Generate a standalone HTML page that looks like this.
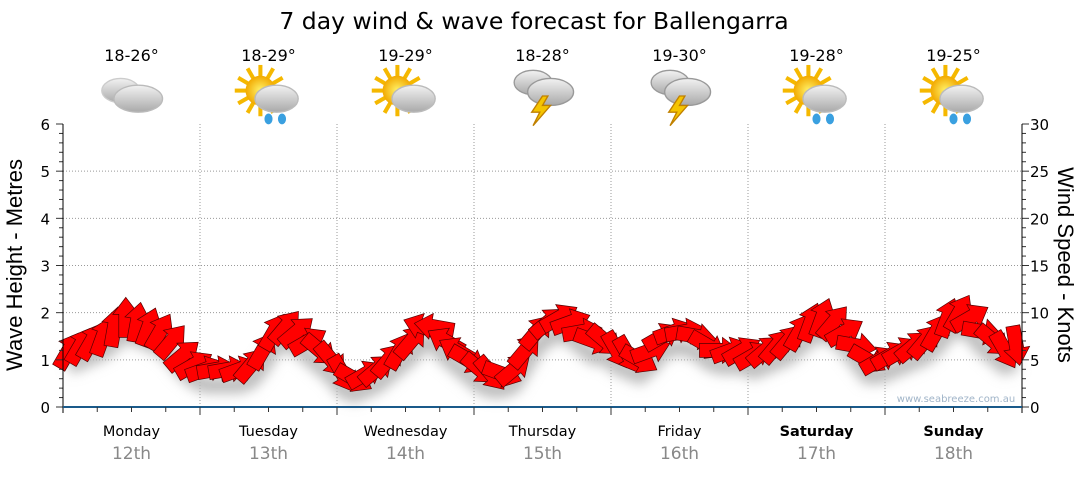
<!DOCTYPE html>
<html><head><meta charset="utf-8"><style>
body{margin:0;background:#fff;font-family:"Liberation Sans",sans-serif}
svg text{font-family:"DejaVu Sans","Liberation Sans",sans-serif}
</style></head><body>
<svg id="c" width="1080" height="475" viewBox="0 0 1080 475" xmlns="http://www.w3.org/2000/svg">
<defs>
<filter id="blur" x="-20%" y="-50%" width="140%" height="200%"><feGaussianBlur stdDeviation="6"/></filter>
<radialGradient id="sun" cx="50%" cy="50%" r="50%"><stop offset="0" stop-color="#fff36a"/><stop offset="1" stop-color="#f2a900"/></radialGradient>
<linearGradient id="cloud" x1="0" y1="0" x2="0" y2="1"><stop offset="0" stop-color="#f2f2f2"/><stop offset="1" stop-color="#a9a9a9"/></linearGradient>
</defs>
<text x="534" y="29" font-size="23.5" text-anchor="middle" fill="#000">7 day wind &amp; wave forecast for Ballengarra</text>
<g id="grid"></g><g id="shadow"></g><g id="arrows"></g><g id="axes"></g><g id="topg"></g>
<text x="956" y="402" font-size="10" fill="#a0b4c8" text-anchor="middle">www.seabreeze.com.au</text>
<text transform="translate(22,265) rotate(-90)" font-size="22" text-anchor="middle" style="font-family:'Liberation Sans',sans-serif">Wave Height - Metres</text>
<text transform="translate(1058,265) rotate(90)" font-size="22" text-anchor="middle" style="font-family:'Liberation Sans',sans-serif">Wind Speed - Knots</text>
</svg>
<script>
const days=["Monday","Tuesday","Wednesday","Thursday","Friday","Saturday","Sunday"];
const dates=["12th","13th","14th","15th","16th","17th","18th"];
const temps=["18-26°","18-29°","19-29°","18-28°","19-30°","19-28°","19-25°"];
const icons=["cloud","sunrain","suncloud","storm","storm","sunrain","sunrain"];
const waveTicks=[0,1,2,3,4,5,6];
const windTicks=[0,5,10,15,20,25,30];
const windSpeed=[6,6.5,7,7.5,8.5,9.5,9,8.5,8,7,5.5,4.5,
4,4,4,4,4.5,6,8,8.5,8,7,6,5,
3.5,3,3.5,4,5,6,7,8.5,8.5,7,6,5,
4,3.5,3.5,4,6,8,9,9.5,9,8,7,7,
6,5.5,5,6,7.5,8,8,7.5,6.5,6,6,6,
5.5,6,6.5,7,8,9,9.5,9,8,6.5,5,5,
5.5,6,6.5,7,8,9.5,10,9.5,8,7,6,6.5];
const windDir=[30,30,30,20,10,0,10,20,30,40,50,60,
70,80,80,70,40,30,30,40,50,60,130,140,
150,120,60,50,40,30,40,-70,-80,-60,-60,120,
130,140,110,50,40,40,50,60,70,80,110,130,
150,150,120,70,60,70,80,100,120,90,70,60,
60,50,40,40,30,20,20,40,60,100,120,60,
60,60,50,40,30,20,30,60,100,130,150,170];
const NS="http://www.w3.org/2000/svg";
const X0=63,X1=1022,Y0=407,YT=124;
const dayW=(X1-X0)/7;
const yWave=v=>Y0-(v/6)*(Y0-YT);
const yWind=v=>Y0-(v/30)*(Y0-YT);
const xT=i=>X0+(i+0.5)*(X1-X0)/windSpeed.length;
function mk(t,a,p){const e=document.createElementNS(NS,t);for(const k in a)e.setAttribute(k,a[k]);(p||document.getElementById('c')).appendChild(e);return e;}
const grid=document.getElementById('grid'),axes=document.getElementById('axes'),topg=document.getElementById('topg');
waveTicks.forEach((v,i)=>{
 if(v>0&&v<6){const l=mk('line',{x1:X0,x2:X1,y1:yWave(v),y2:yWave(v),stroke:'#999','stroke-dasharray':'1,2'},grid);
 
 }
 const t=mk('text',{x:50,y:yWave(v)+6,'font-size':15,'text-anchor':'end'},axes);t.textContent=v;
 
 
});
windTicks.forEach(v=>{
 const t=mk('text',{x:1030,y:yWind(v)+6,'font-size':15},axes);t.textContent=v;
 
 
});
for(let k=0;k<=30;k++){const y=Y0-k*(Y0-YT)/30;const w=k%5==0?7:4;
 mk('line',{x1:X0-w,x2:X0,y1:y,y2:y,stroke:'#333'},axes);
 mk('line',{x1:X1,x2:X1+w,y1:y,y2:y,stroke:'#333'},axes);}
mk('line',{x1:X0,x2:X0,y1:YT,y2:Y0+6,stroke:'#000'},axes);
mk('line',{x1:X1,x2:X1,y1:YT,y2:Y0+6,stroke:'#000'},axes);
mk('line',{x1:X0,x2:X1,y1:Y0,y2:Y0,stroke:'#1a5a8a','stroke-width':2},axes);
for(let d=0;d<7;d++){
 const xs=X0+d*dayW;
 if(d>0){const g=mk('line',{x1:xs,x2:xs,y1:YT,y2:Y0,stroke:'#999','stroke-dasharray':'1,2'},grid);
 
 
 mk('line',{x1:xs,x2:xs,y1:Y0,y2:Y0+8,stroke:'#333'},axes);}
 for(let q=1;q<4;q++)mk('line',{x1:xs+q*dayW/4,x2:xs+q*dayW/4,y1:Y0,y2:Y0+5,stroke:'#333'},axes);
 const cx=xs+dayW/2;
 const dl=mk('text',{x:cx,y:436,'font-size':14.5,'text-anchor':'middle','font-weight':d>=5?'bold':'normal'},axes);dl.textContent=days[d];
 
 
 const dt=mk('text',{x:cx,y:459,'font-size':17,'text-anchor':'middle',fill:'#888'},axes);dt.textContent=dates[d];
 
 
 const tt=mk('text',{x:cx,y:61,'font-size':16,'text-anchor':'middle'},topg);tt.textContent=temps[d];
 
 
 const g=mk('g',{transform:`translate(${cx},96) scale(1.35)`},topg);
 
 
 const ic=icons[d];
 if(ic=='sunrain'||ic=='suncloud'){
  for(let r=0;r<12;r++){const a=r*30*Math.PI/180;mk('line',{x1:-6+Math.cos(a)*10,y1:-4+Math.sin(a)*10,x2:-6+Math.cos(a)*19,y2:-4+Math.sin(a)*19,stroke:'#f5b800','stroke-width':3},g);}
  mk('circle',{cx:-6,cy:-4,r:11,fill:'url(#sun)'},g);
 }
 if(ic=='cloud'){
  mk('ellipse',{cx:-8,cy:-4,rx:14,ry:9,fill:'url(#cloud)',stroke:'#ccc'},g);
  mk('ellipse',{cx:5,cy:2,rx:18,ry:10,fill:'url(#cloud)',stroke:'#bbb'},g);
 } else if(ic=='storm'){
  mk('ellipse',{cx:-7,cy:-10,rx:14,ry:9,fill:'url(#cloud)',stroke:'#999'},g);
  mk('ellipse',{cx:6,cy:-3,rx:17,ry:10,fill:'url(#cloud)',stroke:'#999'},g);
  mk('polygon',{points:'0,0 -8,12 -2,12 -7,22 6,7 0,7 4,0',fill:'#f5c400',stroke:'#c08000'},g);
 } else {
  mk('ellipse',{cx:6,cy:2,rx:16,ry:10,fill:'url(#cloud)',stroke:'#bbb'},g);
  if(ic=='sunrain'){mk('ellipse',{cx:0,cy:17,rx:3,ry:4,fill:'#3aa0e0'},g);mk('ellipse',{cx:10,cy:17,rx:3,ry:4,fill:'#3aa0e0'},g);}
 }
}
const sh=document.getElementById('shadow'),ar=document.getElementById('arrows');
let pts=windSpeed.map((v,i)=>`${xT(i)},${yWind(v)+16}`).join(' ');
mk('polyline',{points:pts,fill:'none',stroke:'#bbb','stroke-width':16,filter:'url(#blur)'},sh);
windSpeed.forEach((v,i)=>{
 const p=mk('polygon',{points:'-7,20 7,20 7,-3 13,-3 0,-20 -13,-3 -7,-3',fill:'#f00',stroke:'#500','stroke-width':0.7,
  transform:`translate(${xT(i)},${yWind(v)}) rotate(${windDir[i]})`},ar);
 
 
});
</script>
</body></html>
